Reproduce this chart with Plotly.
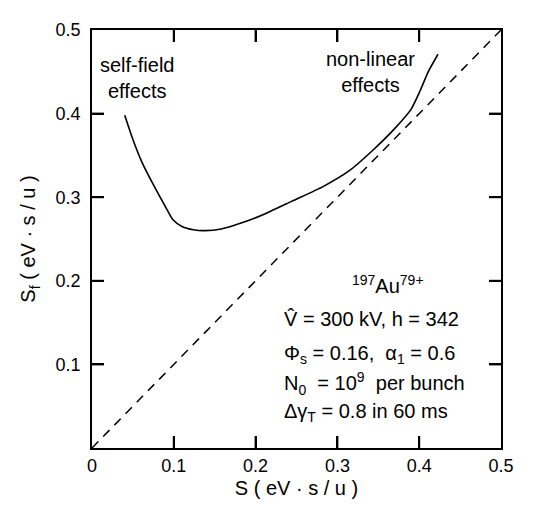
import plotly.graph_objects as go

# Data
curve_s = [0.040, 0.050, 0.061, 0.075, 0.089, 0.099, 0.110, 0.124, 0.138, 0.158,
           0.185, 0.209, 0.244, 0.283, 0.315, 0.342, 0.370, 0.390, 0.401, 0.411, 0.423]
curve_sf = [0.398, 0.369, 0.342, 0.315, 0.290, 0.273, 0.265, 0.261, 0.260, 0.262,
            0.270, 0.279, 0.295, 0.313, 0.332, 0.355, 0.382, 0.405, 0.427, 0.450, 0.471]
diag_s = [0.0, 0.5]
diag_sf = [0.0, 0.5]

x_tickvals = [0, 0.1, 0.2, 0.3, 0.4, 0.5]
x_ticktext = ["0", "0.1", "0.2", "0.3", "0.4", "0.5"]
y_tickvals = [0.1, 0.2, 0.3, 0.4, 0.5]
y_ticktext = ["0.1", "0.2", "0.3", "0.4", "0.5"]

FONT = "Liberation Sans, Arial, sans-serif"
X_RANGE = [0, 0.5]
Y_RANGE = [0, 0.5]
TICK_LEN = 12

fig = go.Figure()
fig.add_trace(go.Scatter(x=curve_s, y=curve_sf, mode="lines",
                         line=dict(color="black", width=1.6, shape="spline", smoothing=0.6),
                         showlegend=False, hoverinfo="skip"))
fig.add_trace(go.Scatter(x=diag_s, y=diag_sf, mode="lines",
                         line=dict(color="black", width=1.5, dash="9px,7px"),
                         showlegend=False, hoverinfo="skip"))

axis_common = dict(showline=True, linecolor="black", linewidth=1.8, mirror="ticks",
                   ticks="inside", ticklen=TICK_LEN, tickwidth=2, tickcolor="#000000",
                   showgrid=False, zeroline=False, tickmode="array", layer="above traces",
                   tickfont=dict(family=FONT, size=18, color="black"))

fig.update_xaxes(range=X_RANGE, tickvals=x_tickvals, ticktext=x_ticktext,
                 title=dict(text="S ( eV · s / u )", font=dict(family=FONT, size=20, color="black"),
                            standoff=6),
                 **axis_common)
fig.update_yaxes(range=Y_RANGE, tickvals=y_tickvals, ticktext=y_ticktext, ticklabelstandoff=6,
                 title=dict(text="S<sub>f</sub> ( eV · s / u )", font=dict(family=FONT, size=20, color="black"),
                            standoff=14),
                 **axis_common)

# inward tick marks on all four sides, placed by the axes' own scales at the tick values
tick_line = dict(color="black", width=2)
for tv in x_tickvals[1:-1]:
    for anchor, sgn in [(Y_RANGE[0], 1), (Y_RANGE[1], -1)]:
        fig.add_shape(type="line", xref="x", yref="y", x0=tv, x1=tv,
                      ysizemode="pixel", yanchor=anchor, y0=0, y1=sgn * TICK_LEN,
                      line=tick_line, layer="above")
for tv in y_tickvals[:-1]:
    for anchor, sgn in [(X_RANGE[0], 1), (X_RANGE[1], -1)]:
        fig.add_shape(type="line", xref="x", yref="y", y0=tv, y1=tv,
                      xsizemode="pixel", xanchor=anchor, x0=0, x1=sgn * TICK_LEN,
                      line=tick_line, layer="above")

ann_font = dict(family=FONT, size=20, color="black")
annotations = [
    dict(x=0.055, y=0.442, text="self-field<br>effects", xanchor="center", yanchor="middle"),
    dict(x=0.341, y=0.450, text="non-linear<br>effects", xanchor="center", yanchor="middle"),
    dict(x=0.362, y=0.195, text="<sup>197</sup>Au<sup>79+</sup>", xanchor="center", yanchor="middle"),
    dict(x=0.232, y=0.154, text="V\u0302 = 300 kV, h = 342", xanchor="left", yanchor="middle"),
    dict(x=0.232, y=0.112, text="\u03a6<sub>s</sub> = 0.16,  \u03b1<sub>1</sub> = 0.6", xanchor="left", yanchor="middle"),
    dict(x=0.232, y=0.077, text="N<sub>0</sub>  = 10<sup>9</sup>  per bunch", xanchor="left", yanchor="middle"),
    dict(x=0.232, y=0.042, text="\u0394\u03b3<sub>T</sub> = 0.8 in 60 ms", xanchor="left", yanchor="middle"),
]
for a in annotations:
    fig.add_annotation(xref="x", yref="y", showarrow=False, font=ann_font, align="center", **a)

fig.update_layout(width=518, height=500,
                  margin=dict(l=84, r=14, t=12, b=56),
                  plot_bgcolor="white", paper_bgcolor="white",
                  font=dict(family=FONT, color="black"))

fig.write_html("out.html")
